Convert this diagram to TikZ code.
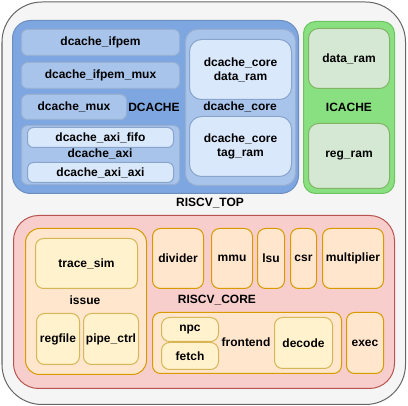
\documentclass[tikz,border=0pt]{standalone}
\usepackage{fontspec}
\setmainfont{Liberation Sans}
\usetikzlibrary{positioning}
\definecolor{topf}{HTML}{F5F5F5}\definecolor{topd}{HTML}{666666}
\definecolor{dcf}{HTML}{7EA6E0}\definecolor{dcd}{HTML}{6C8EBF}
\definecolor{bmid}{HTML}{A9C4EB}\definecolor{blt}{HTML}{DAE8FC}
\definecolor{icf}{HTML}{88E080}\definecolor{icd}{HTML}{6FC462}
\definecolor{glt}{HTML}{D5E8D4}\definecolor{gd}{HTML}{82B366}
\definecolor{rf}{HTML}{F8CECC}\definecolor{rd}{HTML}{B85450}
\definecolor{of}{HTML}{FFE6CC}\definecolor{od}{HTML}{D79B00}
\definecolor{yf}{HTML}{FFF2CC}\definecolor{yd}{HTML}{D6B656}
\newcommand\blk[7]{\node[#6, anchor=north west, minimum width={(#4-#2)*1pt}, minimum height={(#5-#3)*1pt}] (#1) at (#2,#3) {#7};}
\tikzset{
  base/.style={inner sep=0pt, line width=1pt, align=center, font=\fontsize{12}{14}\selectfont\bfseries},
  topbox/.style={base, fill=topf, draw=topd, rounded corners=40pt},
  dcbox/.style={base, fill=dcf, draw=dcd, rounded corners=18pt},
  bmbox/.style={base, fill=bmid, draw=dcd!70, rounded corners=6pt},
  bmcont/.style={base, fill=bmid, draw=dcd!70, rounded corners=12pt},
  bltbox/.style={base, fill=blt, draw=dcd!80, rounded corners=6pt},
  bltbig/.style={base, fill=blt, draw=dcd!80, rounded corners=12pt},
  icbox/.style={base, fill=icf, draw=icd, rounded corners=12pt},
  gbox/.style={base, fill=glt, draw=gd, rounded corners=10pt},
  corebox/.style={base, fill=rf, draw=rd, rounded corners=25pt},
  obox/.style={base, fill=of, draw=od, rounded corners=8pt},
  ocont/.style={base, fill=of, draw=od, rounded corners=14pt},
  ybox/.style={base, fill=yf, draw=yd, rounded corners=8pt},
  lbl/.style={inner sep=0pt, font=\fontsize{12}{14}\selectfont\bfseries},
}
\begin{document}
\begin{tikzpicture}[x=1pt,y=-1pt]
\useasboundingbox (0,0) rectangle (408,406);
\blk{top}{1.5}{1.5}{405}{404}{topbox}{}
\node[lbl] (toplbl) at (210,203) {RISCV\_TOP};
% DCACHE
\blk{dcache}{12}{20}{298}{193}{dcbox}{}
\node[lbl] (dclbl) at (154,107) {DCACHE};
\blk{ifpem}{21}{29}{179}{55}{bmbox}{dcache\_ifpem}
\blk{ifpemmux}{21}{62}{179}{88}{bmbox}{dcache\_ifpem\_mux}
\blk{mux}{21}{94}{126}{119}{bmbox}{dcache\_mux}
\blk{axi}{21}{125}{179}{184}{bmbox}{}
\node[lbl] (axilbl) at (100,154) {dcache\_axi};
\blk{fifo}{27}{127}{173}{147}{bltbox}{dcache\_axi\_fifo}
\blk{axiaxi}{27}{162}{173}{182}{bltbox}{dcache\_axi\_axi}
\blk{core}{185}{29}{295}{185}{bmcont}{}
\node[lbl] (corelbl) at (240,107) {dcache\_core};
\blk{dram}{189}{39}{291}{99}{bltbig}{dcache\_core\\data\_ram}
\blk{tram}{189}{116}{291}{176}{bltbig}{dcache\_core\\tag\_ram}
% ICACHE
\blk{icache}{303}{21}{394}{193}{icbox}{}
\node[lbl] (iclbl) at (349,107) {ICACHE};
\blk{idram}{308}{28}{389}{88}{gbox}{data\_ram}
\blk{iregram}{308}{123}{389}{188}{gbox}{reg\_ram}
% RISCV_CORE
\blk{rcore}{13}{215}{394}{388}{corebox}{}
\node[lbl] (rclbl) at (217,300) {RISCV\_CORE};
\blk{issue}{25}{228}{146}{374}{ocont}{}
\node[lbl] (issuelbl) at (85,300) {issue};
\blk{trace}{35}{238}{137}{288}{ybox}{trace\_sim}
\blk{regfile}{36}{313}{79}{364}{ybox}{regfile}
\blk{pipe}{83}{313}{138}{364}{ybox}{pipe\_ctrl}
\blk{divider}{152}{228}{203}{288}{obox}{divider}
\blk{mmu}{211}{228}{252}{288}{obox}{mmu}
\blk{lsu}{257}{228}{284}{288}{obox}{lsu}
\blk{csr}{290}{228}{316}{288}{obox}{csr}
\blk{mult}{322}{228}{383}{288}{obox}{multiplier}
\blk{frontend}{152}{312}{341}{373}{obox}{}
\node[lbl] (felbl) at (246,342) {frontend};
\blk{npc}{161}{317}{218}{341}{ybox}{npc}
\blk{fetch}{161}{342}{218}{369}{ybox}{fetch}
\blk{decode}{274}{317}{332}{368}{ybox}{decode}
\blk{exec}{346}{312}{383}{373}{obox}{exec}
\end{tikzpicture}
\end{document}
